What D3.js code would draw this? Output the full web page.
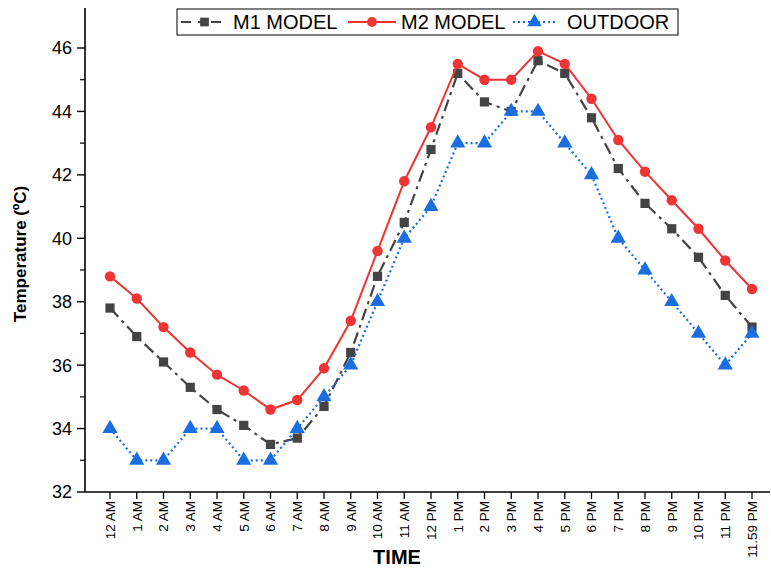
<!DOCTYPE html>
<html>
<head>
<meta charset="utf-8">
<script src="https://cdn.jsdelivr.net/npm/d3@7"></script>
<style>
  html, body { margin: 0; padding: 0; background: #fff; }
  svg { display: block; font-family: "Liberation Sans", Arial, sans-serif; }
</style>
</head>
<body>
<svg id="chart" width="771" height="570"></svg>
<script>
// Hourly temperatures over one day
const hours = ["12 AM","1 AM","2 AM","3 AM","4 AM","5 AM","6 AM","7 AM","8 AM","9 AM","10 AM","11 AM",
               "12 PM","1 PM","2 PM","3 PM","4 PM","5 PM","6 PM","7 PM","8 PM","9 PM","10 PM","11 PM","11.59 PM"];
const m1Model = [37.8, 36.9, 36.1, 35.3, 34.6, 34.1, 33.5, 33.7, 34.7, 36.4, 38.8, 40.5,
                 42.8, 45.2, 44.3, 44.0, 45.6, 45.2, 43.8, 42.2, 41.1, 40.3, 39.4, 38.2, 37.2];
const m2Model = [38.8, 38.1, 37.2, 36.4, 35.7, 35.2, 34.6, 34.9, 35.9, 37.4, 39.6, 41.8,
                 43.5, 45.5, 45.0, 45.0, 45.9, 45.5, 44.4, 43.1, 42.1, 41.2, 40.3, 39.3, 38.4];
const outdoor = [34, 33, 33, 34, 34, 33, 33, 34, 35, 36, 38, 40,
                 41, 43, 43, 44, 44, 43, 42, 40, 39, 38, 37, 36, 37];
const yTicks = [32, 34, 36, 38, 40, 42, 44, 46];
const yMinorTicks = [33, 35, 37, 39, 41, 43, 45];

const svg = d3.select("#chart");
const plotLeft = 85, plotRight = 770, plotTop = 8, plotBottom = 492;

const x = d3.scalePoint().domain(hours).range([110, 752]);
const y = d3.scaleLinear().domain([32, 46]).range([plotBottom, 48]);

// Axes
const yAxis = svg.append("g").attr("transform", `translate(${plotLeft},0)`);
yAxis.append("line").attr("x1", 0).attr("x2", 0).attr("y1", plotTop).attr("y2", plotBottom)
  .attr("stroke", "#000").attr("stroke-width", 1.6);
yAxis.selectAll(".ymaj").data(yTicks).join("line")
  .attr("x1", -8).attr("x2", 0).attr("y1", d => y(d)).attr("y2", d => y(d))
  .attr("stroke", "#000").attr("stroke-width", 1.4);
yAxis.selectAll(".ymin").data(yMinorTicks).join("line")
  .attr("x1", -5).attr("x2", 0).attr("y1", d => y(d)).attr("y2", d => y(d))
  .attr("stroke", "#000").attr("stroke-width", 1.2);
yAxis.selectAll(".ylab").data(yTicks).join("text")
  .attr("x", -13).attr("y", d => y(d)).attr("dy", "0.36em")
  .attr("text-anchor", "end").attr("font-size", 18).attr("fill", "#000")
  .text(d => d);

const xAxis = svg.append("g");
xAxis.append("line").attr("x1", plotLeft).attr("x2", plotRight).attr("y1", plotBottom).attr("y2", plotBottom)
  .attr("stroke", "#000").attr("stroke-width", 1.6);
xAxis.selectAll(".xt").data(hours).join("line")
  .attr("x1", d => x(d)).attr("x2", d => x(d)).attr("y1", plotBottom).attr("y2", plotBottom + 7)
  .attr("stroke", "#000").attr("stroke-width", 1.3);
xAxis.selectAll(".xl").data(hours).join("text")
  .attr("transform", d => `translate(${x(d)},${plotBottom + 9}) rotate(-90)`)
  .attr("dy", "0.36em").attr("text-anchor", "end")
  .attr("font-size", 13.5).attr("fill", "#000")
  .text(d => d);

// Axis titles
svg.append("text").attr("x", 397).attr("y", 564).attr("text-anchor", "middle")
  .attr("font-size", 20).attr("font-weight", "bold").text("TIME");
svg.append("text").attr("transform", "translate(26,254) rotate(-90)")
  .attr("text-anchor", "middle").attr("font-size", 17).attr("font-weight", "bold")
  .text("Temperature (ºC)");

// Series
const series = [
  { name: "M1 MODEL", values: m1Model, color: "#444444", dash: "12,5,3,5", width: 2.2, shape: d3.symbolSquare, size: 85 },
  { name: "M2 MODEL", values: m2Model, color: "#ee3434", dash: null, width: 2, shape: d3.symbolCircle, size: 85 },
  { name: "OUTDOOR", values: outdoor, color: "#1a6ee0", dash: "2,3", width: 2.2, shape: d3.symbolTriangle, size: 100 }
];

const line = d3.line().x((d, i) => x(hours[i])).y(d => y(d));

series.forEach(s => {
  const g = svg.append("g");
  g.append("path").datum(s.values).attr("d", line)
    .attr("fill", "none").attr("stroke", s.color).attr("stroke-width", s.width)
    .attr("stroke-dasharray", s.dash);
  g.selectAll("path.pt").data(s.values).join("path").attr("class", "pt")
    .attr("transform", (d, i) => `translate(${x(hours[i])},${y(d)})`)
    .attr("d", d3.symbol().type(s.shape).size(s.size))
    .attr("fill", s.color);
});

// Legend
const lg = svg.append("g");
lg.append("rect").attr("x", 177).attr("y", 9).attr("width", 501).attr("height", 26)
  .attr("fill", "#fff").attr("stroke", "#000").attr("stroke-width", 1);
const legendPos = [
  { x0: 181, x1: 228, tx: 233 },
  { x0: 348, x1: 396, tx: 401 },
  { x0: 513, x1: 556, tx: 567 }
];
series.forEach((s, i) => {
  const p = legendPos[i], cy = 22;
  lg.append("line").attr("x1", p.x0).attr("x2", p.x1).attr("y1", cy).attr("y2", cy)
    .attr("stroke", s.color).attr("stroke-width", s.width)
    .attr("stroke-dasharray", i === 0 ? "10,7,6,7" : s.dash);
  lg.append("path").attr("transform", `translate(${(p.x0 + p.x1) / 2},${cy})`)
    .attr("d", d3.symbol().type(s.shape).size(s.size * 0.9)).attr("fill", s.color);
  lg.append("text").attr("x", p.tx).attr("y", cy).attr("dy", "0.36em")
    .attr("font-size", 20).attr("fill", "#000").text(s.name);
});
</script>
</body>
</html>
